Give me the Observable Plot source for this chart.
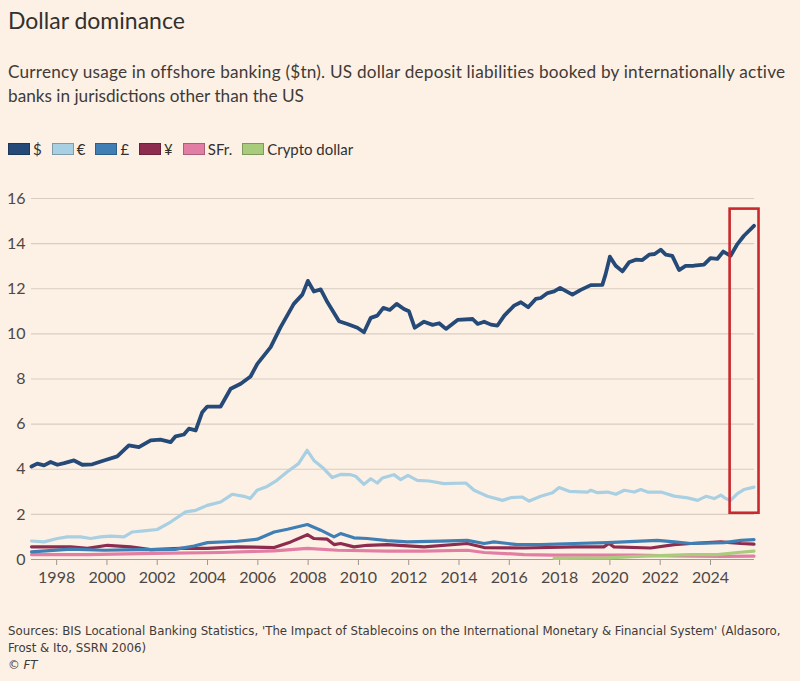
<!DOCTYPE html>
<html>
<head>
<meta charset="utf-8">
<script src="https://cdn.jsdelivr.net/npm/d3@7"></script>
<script src="https://cdn.jsdelivr.net/npm/@observablehq/plot@0.6"></script>
<style>
  html, body { margin: 0; padding: 0; background: #fdf1e6; }
  body { width: 800px; height: 681px; position: relative; overflow: hidden; font-family: Lato, "Open Sans", sans-serif; color: #33302e; }
  .abs { position: absolute; left: 8px; white-space: nowrap; }
  #title { top: 6px; font-size: 23px; line-height: 28px; color: #33302e; }
  #subtitle { top: 60px; font-size: 17.2px; line-height: 24px; color: #403b38; }
  #subtitle .l1 { letter-spacing: 0.21px; }
  #legend { top: 139px; height: 20px; display: flex; align-items: center; font-size: 15px; color: #33302e; }
  .item { display: flex; align-items: center; margin-right: 10px; }
  .sw { width: 20px; height: 10px; margin-right: 3px; border: 1px solid rgba(0,0,0,0.25); }
  #chart { position: absolute; left: 0; top: 165px; }
  #source { top: 622px; font-family: "Liberation Sans Narrow", "DejaVu Sans Condensed", sans-serif; font-size: 13.1px; line-height: 17px; color: #403b38; }
</style>
</head>
<body>
<div id="title" class="abs">Dollar dominance</div>
<div id="subtitle" class="abs"><span class="l1">Currency usage in offshore banking ($tn). US dollar deposit liabilities booked by internationally active</span><br>banks in jurisdictions other than the US</div>
<div id="legend" class="abs"></div>
<div id="chart"></div>
<div id="source" class="abs">Sources: BIS Locational Banking Statistics, 'The Impact of Stablecoins on the International Monetary &amp; Financial System' (Aldasoro,<br>Frost &amp; Ito, SSRN 2006)<br><i>© FT</i></div>
<script>
// ---- data (year, $tn) ----
const dollar = [[1997.0,4.12],[1997.23,4.25],[1997.5,4.17],[1997.76,4.32],[1998.03,4.2],[1998.3,4.27],[1998.69,4.39],[1999.02,4.2],[1999.42,4.22],[1999.88,4.39],[2000.41,4.57],[2000.87,5.06],[2001.27,4.98],[2001.74,5.28],[2002.13,5.31],[2002.53,5.2],[2002.73,5.46],[2003.06,5.54],[2003.26,5.8],[2003.53,5.72],[2003.79,6.53],[2003.99,6.78],[2004.52,6.78],[2004.92,7.57],[2005.32,7.79],[2005.71,8.11],[2005.98,8.67],[2006.51,9.41],[2006.9,10.29],[2007.43,11.33],[2007.77,11.74],[2007.99,12.35],[2008.23,11.88],[2008.5,11.97],[2008.77,11.4],[2009.23,10.56],[2009.56,10.44],[2009.96,10.27],[2010.22,10.07],[2010.49,10.71],[2010.75,10.81],[2010.99,11.15],[2011.25,11.06],[2011.52,11.33],[2011.81,11.1],[2012.01,11.0],[2012.24,10.27],[2012.61,10.54],[2012.95,10.4],[2013.21,10.47],[2013.48,10.22],[2013.94,10.62],[2014.54,10.66],[2014.74,10.44],[2015.0,10.54],[2015.27,10.41],[2015.53,10.37],[2015.8,10.81],[2016.19,11.25],[2016.46,11.4],[2016.75,11.18],[2017.05,11.55],[2017.25,11.59],[2017.52,11.81],[2017.78,11.88],[2018.02,12.04],[2018.51,11.74],[2018.84,11.95],[2019.24,12.16],[2019.7,12.17],[2019.83,12.65],[2020.0,13.42],[2020.23,13.02],[2020.5,12.77],[2020.76,13.17],[2021.03,13.29],[2021.29,13.27],[2021.56,13.51],[2021.78,13.54],[2022.02,13.73],[2022.22,13.51],[2022.48,13.46],[2022.75,12.83],[2023.01,13.01],[2023.34,13.02],[2023.74,13.07],[2024.0,13.36],[2024.27,13.32],[2024.51,13.65],[2024.8,13.46],[2025.07,13.98],[2025.33,14.35],[2025.73,14.79]];
const euro = [[1997.0,0.82],[1997.5,0.78],[1998.03,0.93],[1998.42,1.0],[1998.95,1.0],[1999.35,0.93],[1999.75,1.0],[2000.15,1.04],[2000.68,1.0],[2001.01,1.22],[2001.47,1.27],[2002.0,1.33],[2002.53,1.66],[2003.13,2.11],[2003.53,2.18],[2003.99,2.4],[2004.52,2.55],[2004.98,2.89],[2005.45,2.8],[2005.7,2.7],[2005.97,3.07],[2006.37,3.24],[2006.76,3.51],[2007.16,3.88],[2007.62,4.25],[2007.96,4.84],[2008.23,4.39],[2008.62,4.03],[2008.96,3.63],[2009.29,3.77],[2009.69,3.76],[2009.89,3.69],[2010.22,3.33],[2010.49,3.58],[2010.75,3.39],[2010.95,3.61],[2011.41,3.76],[2011.68,3.54],[2011.97,3.73],[2012.34,3.51],[2012.81,3.48],[2013.4,3.36],[2014.27,3.39],[2014.6,3.07],[2015.13,2.8],[2015.73,2.62],[2016.06,2.74],[2016.52,2.77],[2016.79,2.59],[2017.25,2.8],[2017.72,2.96],[2017.98,3.19],[2018.38,3.02],[2019.11,2.99],[2019.24,3.07],[2019.51,2.96],[2019.91,2.99],[2020.24,2.89],[2020.57,3.07],[2020.97,2.99],[2021.23,3.1],[2021.5,2.99],[2022.03,2.99],[2022.56,2.81],[2023.09,2.73],[2023.49,2.62],[2023.82,2.8],[2024.15,2.7],[2024.41,2.85],[2024.61,2.7],[2024.8,2.62],[2025.07,2.92],[2025.33,3.1],[2025.73,3.21]];
const pound = [[1997.0,0.34],[1998.56,0.46],[1999.88,0.41],[2001.2,0.44],[2001.87,0.44],[2002.7,0.45],[2003.46,0.6],[2004.0,0.75],[2005.19,0.81],[2005.98,0.9],[2006.65,1.22],[2007.18,1.34],[2007.97,1.55],[2008.5,1.3],[2009.03,1.0],[2009.29,1.15],[2009.82,0.96],[2010.35,0.93],[2011.15,0.84],[2011.94,0.78],[2013.27,0.81],[2014.33,0.85],[2015.0,0.71],[2015.39,0.78],[2016.32,0.66],[2017.25,0.66],[2018.57,0.71],[2019.9,0.75],[2021.89,0.85],[2022.56,0.78],[2023.22,0.71],[2024.55,0.75],[2025.21,0.85],[2025.73,0.88]];
const yen = [[1997.0,0.56],[1998.56,0.56],[1999.22,0.49],[2000.02,0.63],[2000.94,0.56],[2001.74,0.44],[2002.93,0.49],[2003.99,0.49],[2005.19,0.56],[2006.65,0.53],[2007.31,0.78],[2007.97,1.1],[2008.23,0.93],[2008.76,0.9],[2009.03,0.66],[2009.29,0.71],[2009.82,0.56],[2010.35,0.63],[2011.15,0.66],[2012.61,0.56],[2014.33,0.71],[2015.0,0.53],[2016.59,0.51],[2018.57,0.56],[2019.76,0.56],[2019.96,0.71],[2020.16,0.56],[2021.62,0.51],[2022.56,0.66],[2023.22,0.71],[2024.41,0.78],[2025.21,0.71],[2025.73,0.68]];
const franc = [[1997.0,0.22],[1999.22,0.22],[2001.87,0.27],[2004.52,0.31],[2006.65,0.38],[2007.97,0.49],[2009.16,0.41],[2011.15,0.37],[2012.61,0.37],[2014.33,0.41],[2015.0,0.31],[2016.59,0.22],[2017.78,0.19],[2019.9,0.19],[2020.96,0.19],[2022.5,0.16],[2024.5,0.14],[2025.73,0.15]];
const crypto = [[2017.78,0.05],[2019.9,0.07],[2021.1,0.14],[2022.56,0.19],[2023.22,0.22],[2024.28,0.22],[2025.07,0.31],[2025.73,0.37]];

const seriesNames = ["$", "€", "£", "¥", "SFr.", "Crypto dollar"];
const seriesData = [dollar, euro, pound, yen, franc, crypto];
const seriesColors = ["#264a78", "#a9cfe2", "#3f7fb4", "#8e2c50", "#e27ea3", "#a9cb7c"];
const drawOrder = ["SFr.", "Crypto dollar", "¥", "£", "€", "$"];

const xTicks = [1998, 2000, 2002, 2004, 2006, 2008, 2010, 2012, 2014, 2016, 2018, 2020, 2022, 2024];
const yTicks = [0, 2, 4, 6, 8, 10, 12, 14, 16];
const xDomain = [1997, 2025.75];
const yDomain = [0, 16];

// highlighted period (red box), in data units
const highlight = [{start: 2024.78, end: 2025.93, low: 2.05, high: 15.53}];

// ---- legend ----
const legend = document.getElementById("legend");
seriesNames.forEach((name, i) => {
  const it = document.createElement("div");
  it.className = "item";
  const sw = document.createElement("span");
  sw.className = "sw";
  sw.style.background = seriesColors[i];
  const lb = document.createElement("span");
  lb.textContent = name;
  it.appendChild(sw); it.appendChild(lb);
  legend.appendChild(it);
});

// ---- chart ----
const lineMarks = drawOrder.map(name => {
  const i = seriesNames.indexOf(name);
  const rows = seriesData[i].map(([t, v]) => ({t, v, name}));
  return Plot.line(rows, {
    x: "t", y: "v", stroke: seriesColors[i],
    strokeWidth: name === "$" ? 3.8 : 3.2,
    strokeLinejoin: "round", strokeLinecap: "round"
  });
});

const chart = Plot.plot({
  width: 800,
  height: 435,
  marginLeft: 31,
  marginRight: 46,
  marginTop: 33,
  marginBottom: 41,
  style: {background: "transparent", fontFamily: "Lato, 'Open Sans', sans-serif", fontSize: "16px", color: "#4d4845"},
  x: {domain: xDomain},
  y: {domain: yDomain},
  marks: [
    Plot.gridY(yTicks, {stroke: "#d9cdc2", strokeOpacity: 1, strokeWidth: 1.2}),
    Plot.axisY(yTicks, {tickSize: 0, tickPadding: 6, fontSize: 16, fill: "#4d4845"}),
    Plot.axisX(xTicks, {tickSize: 6, tickPadding: 6, fontSize: 16, stroke: "#9e958d", fill: "#4d4845", tickFormat: d => String(d)}),
    Plot.ruleY([0], {stroke: "#a39a92", strokeWidth: 1.2}),
    ...lineMarks,
    Plot.rect(highlight, {x1: "start", x2: "end", y1: "low", y2: "high", fill: "none", stroke: "#c9282d", strokeWidth: 2.6})
  ]
});
document.getElementById("chart").appendChild(chart);
</script>
</body>
</html>
